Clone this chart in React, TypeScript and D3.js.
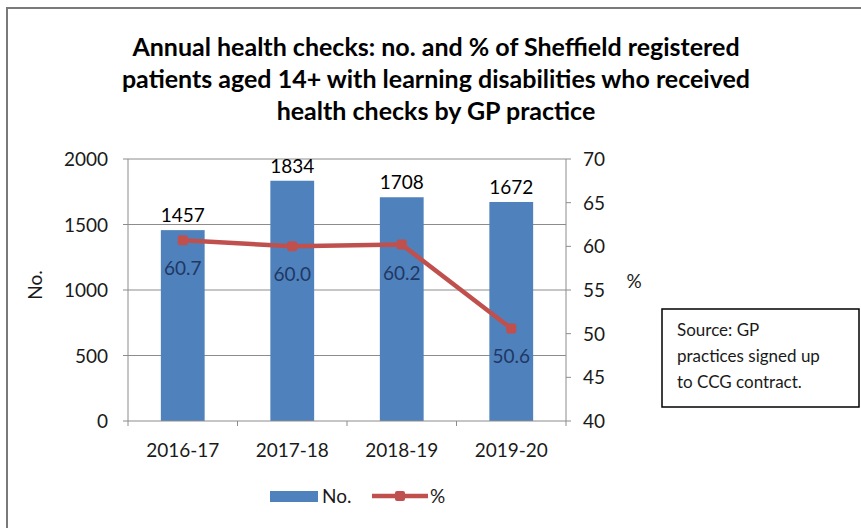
import React from "react";
import * as d3 from "d3";

const categories = ["2016-17", "2017-18", "2018-19", "2019-20"];
const counts = [1457, 1834, 1708, 1672];
const percents = [60.7, 60.0, 60.2, 50.6];
const leftTicks = [0, 500, 1000, 1500, 2000];
const rightTicks = [40, 45, 50, 55, 60, 65, 70];
const titleLines = [
  "Annual health checks: no. and % of Sheffield registered",
  "patients aged 14+ with learning disabilities who received",
  "health checks by GP practice",
];
const sourceLines = ["Source: GP", "practices signed up", "to CCG contract."];

const W = 861;
const H = 528;
const plot = { left: 128, right: 566, top: 159, bottom: 421 };
const font = "Lato, 'Open Sans', sans-serif";
const barColor = "#4F81BD";
const lineColor = "#C0504D";
const gridColor = "#8c8c8c";

export default function App() {
  const x = d3
    .scaleBand<string>()
    .domain(categories)
    .range([plot.left, plot.right])
    .paddingInner(0.6)
    .paddingOuter(0.3);
  const yL = d3.scaleLinear().domain([0, 2000]).range([plot.bottom, plot.top]);
  const yR = d3.scaleLinear().domain([40, 70]).range([plot.bottom, plot.top]);
  const cx = (c: string) => (x(c) ?? 0) + x.bandwidth() / 2;

  const line = d3
    .line<number>()
    .x((_, i) => cx(categories[i]))
    .y((d) => yR(d));

  const step = x.step();
  const bounds = d3.range(categories.length + 1).map((i) => plot.left + i * step);

  return (
    <svg
      width={W}
      height={H}
      style={{ position: "absolute", left: 0, top: 0, background: "#fff" }}
      fontFamily={font}
    >
      <rect x={7} y={8} width={W + 20} height={H + 20} fill="#fff" stroke="#7a7a7a" strokeWidth={2} />

      {/* title */}
      <g fontWeight="bold" fontSize={25} textAnchor="middle" fill="#000">
        {titleLines.map((t, i) => (
          <text key={i} x={436} y={56 + i * 32}>
            {t}
          </text>
        ))}
      </g>

      {/* gridlines */}
      {leftTicks.slice(1).map((t) => (
        <line key={t} x1={plot.left} x2={plot.right} y1={yL(t)} y2={yL(t)} stroke={gridColor} strokeWidth={1} />
      ))}

      {/* bars */}
      {counts.map((v, i) => (
        <rect
          key={i}
          x={x(categories[i])}
          y={yL(v)}
          width={x.bandwidth()}
          height={yL(0) - yL(v)}
          fill={barColor}
        />
      ))}

      {/* axes */}
      <g stroke={gridColor} strokeWidth={1}>
        <line x1={plot.left} x2={plot.left} y1={plot.top} y2={plot.bottom} />
        <line x1={plot.right} x2={plot.right} y1={plot.top} y2={plot.bottom} />
        <line x1={plot.left} x2={plot.right} y1={plot.bottom} y2={plot.bottom} />
        {leftTicks.map((t) => (
          <line key={t} x1={plot.left - 5} x2={plot.left} y1={yL(t)} y2={yL(t)} />
        ))}
        {rightTicks.map((t) => (
          <line key={t} x1={plot.right} x2={plot.right + 5} y1={yR(t)} y2={yR(t)} />
        ))}
        {bounds.map((b, i) => (
          <line key={i} x1={b} x2={b} y1={plot.bottom} y2={plot.bottom + 5} />
        ))}
      </g>

      {/* tick labels */}
      <g fontSize={19} fill="#1a1a1a">
        {leftTicks.map((t) => (
          <text key={t} x={108} y={yL(t) + 7} textAnchor="end">
            {t}
          </text>
        ))}
        {rightTicks.map((t) => (
          <text key={t} x={583} y={yR(t) + 7}>
            {t}
          </text>
        ))}
        {categories.map((c) => (
          <text key={c} x={cx(c)} y={457} textAnchor="middle">
            {c}
          </text>
        ))}
      </g>

      {/* axis titles */}
      <text transform="translate(42,285) rotate(-90)" textAnchor="middle" fontSize={19} fill="#1a1a1a">
        No.
      </text>
      <text x={634} y={288} textAnchor="middle" fontSize={19} fill="#1a1a1a">
        %
      </text>

      {/* bar value labels */}
      <g fontSize={19} textAnchor="middle" fill="#000">
        {counts.map((v, i) => (
          <text key={i} x={cx(categories[i])} y={yL(v) - 8}>
            {v}
          </text>
        ))}
      </g>

      {/* percent line */}
      <path d={line(percents) ?? ""} fill="none" stroke={lineColor} strokeWidth={4.5} strokeLinejoin="round" />
      {percents.map((p, i) => (
        <rect
          key={i}
          x={cx(categories[i]) - 5}
          y={yR(p) - 5}
          width={10}
          height={10}
          rx={2}
          fill={lineColor}
        />
      ))}
      <g fontSize={19} textAnchor="middle" fill="#1f3864">
        {percents.map((p, i) => (
          <text key={i} x={cx(categories[i])} y={yR(p) + 35}>
            {p.toFixed(1)}
          </text>
        ))}
      </g>

      {/* legend */}
      <rect x={270} y={491} width={48} height={11} fill={barColor} />
      <text x={322} y={503} fontSize={19} fill="#1a1a1a">
        No.
      </text>
      <line x1={372} x2={428} y1={496} y2={496} stroke={lineColor} strokeWidth={4.5} />
      <rect x={395} y={491} width={10} height={10} rx={2} fill={lineColor} />
      <text x={430} y={503} fontSize={19} fill="#1a1a1a">
        %
      </text>

      {/* source note */}
      <rect x={662} y={309} width={197} height={98} fill="#fff" stroke="#000" strokeWidth={1.5} />
      <g fontSize={17} fill="#1a1a1a">
        {sourceLines.map((s, i) => (
          <text key={i} x={677} y={336 + i * 26}>
            {s}
          </text>
        ))}
      </g>
    </svg>
  );
}
